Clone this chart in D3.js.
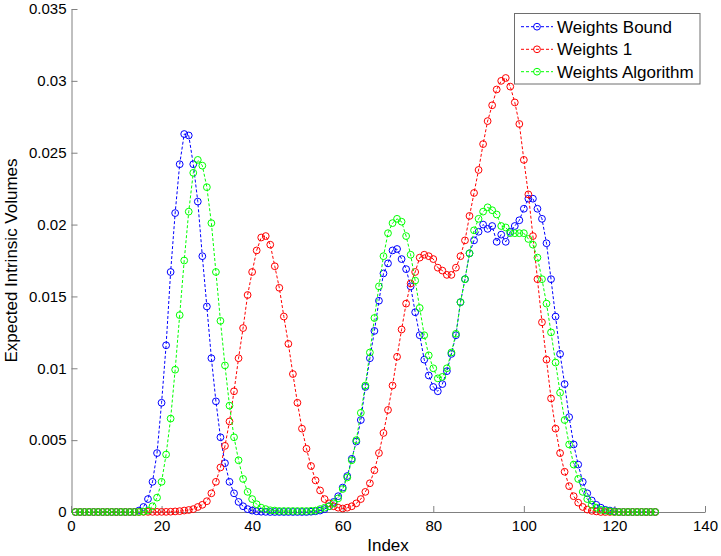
<!DOCTYPE html>
<html>
<head>
<meta charset="utf-8">
<script src="https://cdn.jsdelivr.net/npm/d3@7"></script>
<style>
  html, body { margin: 0; padding: 0; background: #fff; }
  svg { display: block; font-family: "Liberation Sans", Arial, Helvetica, sans-serif; }
</style>
</head>
<body>
<svg id="chart" width="721" height="556"></svg>
<script>
// ---------------- data ----------------
const seriesNames = ["Weights Bound", "Weights 1", "Weights Algorithm"];
const seriesColors = ["#0000ff", "#ff0000", "#00ff00"];

const weightsBound = [
  0,0,0,0,0,0,0,0,0,0,
  0,0,0,0,0.0001,0.00035,0.0009,0.0021,0.0041,0.0076,
  0.0116,0.0167,0.0208,0.0242,0.0263,0.0262,0.0242,0.0216,0.0178,0.0143,
  0.0107,0.0077,0.0052,0.0034,0.0021,0.0013,0.0007,0.0004,0.0002,0.0001,
  0.00005,0.00002,0.00001,0,0,0,0,0,0,0,
  0,0,0.00002,0.00005,0.0001,0.0002,0.0004,0.0007,0.0011,0.0017,
  0.0025,0.0037,0.0049,0.0064,0.0087,0.0107,0.0126,0.0147,0.0166,0.0173,
  0.0182,0.0183,0.0176,0.0169,0.0157,0.0139,0.0123,0.0106,0.0095,0.0087,
  0.0084,0.0089,0.0098,0.0110,0.0123,0.0146,0.0162,0.0180,0.0189,0.0195,
  0.0200,0.0197,0.0199,0.0188,0.0193,0.0188,0.0195,0.0199,0.0203,0.0211,
  0.0218,0.0218,0.0211,0.0204,0.0187,0.0162,0.0136,0.0110,0.0089,0.0066,
  0.0047,0.0033,0.0021,0.0013,0.0008,0.0005,0.0003,0.00015,0.0001,0.00005,
  0,0,0,0,0,0,0,0,0
];

const weights1 = [
  0,0,0,0,0,0,0,0,0,0,
  0,0,0,0,0,0.00001,0.00001,0.00001,0.00001,0.00001,
  0.00001,0.00002,0.00004,0.00006,0.0001,0.00014,0.0002,0.00035,0.0005,0.00075,
  0.0013,0.0021,0.0031,0.0046,0.0063,0.0084,0.0107,0.0128,0.0151,0.0167,
  0.0182,0.0191,0.0192,0.0186,0.0171,0.0156,0.0136,0.0117,0.0096,0.0076,
  0.0058,0.0044,0.0032,0.0022,0.0015,0.0009,0.0006,0.0004,0.0003,0.00024,
  0.0003,0.0004,0.0006,0.0009,0.0014,0.0020,0.0029,0.0041,0.0055,0.0071,
  0.0088,0.0108,0.0127,0.0145,0.0159,0.0167,0.0177,0.0179,0.0178,0.0176,
  0.0170,0.0168,0.0165,0.0165,0.0170,0.0178,0.0189,0.0206,0.0222,0.0238,
  0.0256,0.0272,0.0283,0.0294,0.0300,0.0302,0.0296,0.0285,0.0270,0.0245,
  0.0221,0.0192,0.0162,0.0132,0.0106,0.0079,0.0058,0.0041,0.0028,0.0018,
  0.0011,0.00065,0.00035,0.00017,0.00008,0.00004,0,0,0,0,
  0,0,0,0,0,0,0,0,0
];

const weightsAlgorithm = [
  0,0,0,0,0,0,0,0,0,0,
  0,0,0,0,0,0.00003,0.0001,0.0004,0.0010,0.0021,
  0.0040,0.0065,0.0099,0.0137,0.0175,0.0209,0.0236,0.0245,0.0241,0.0226,
  0.0201,0.0167,0.0133,0.0102,0.0074,0.0052,0.0036,0.0023,0.0014,0.0009,
  0.00054,0.0003,0.0002,0.00012,0.0001,0.00007,0.00007,0.00007,0.00007,0.00007,
  0.00007,0.00007,0.00008,0.0001,0.0002,0.0003,0.0004,0.0006,0.00095,0.0016,
  0.0024,0.0036,0.0050,0.0069,0.0088,0.0111,0.0135,0.0157,0.0178,0.0194,
  0.0201,0.0204,0.0202,0.0192,0.0179,0.0161,0.0142,0.0123,0.0109,0.0100,
  0.0093,0.0094,0.0100,0.0111,0.0124,0.0146,0.0162,0.0180,0.0196,0.0204,
  0.0209,0.0212,0.0210,0.0207,0.0199,0.0198,0.0194,0.0194,0.0194,0.0194,
  0.0190,0.0186,0.0177,0.0162,0.0145,0.0125,0.0104,0.0083,0.0064,0.0047,
  0.0033,0.0023,0.0014,0.0009,0.0005,0.0003,0.00015,0.0001,0.00005,0,
  0,0,0,0,0,0,0,0,0
];

const xTicks = [0, 20, 40, 60, 80, 100, 120, 140];
const yTicks = [0, 0.005, 0.01, 0.015, 0.02, 0.025, 0.03, 0.035];
const xLabel = "Index";
const yLabel = "Expected Intrinsic Volumes";

// ---------------- chart ----------------
const svg = d3.select("#chart");
const axisColor = "#808080";

const x = d3.scaleLinear().domain([0, 140]).range([71, 705]);
const y = d3.scaleLinear().domain([0, 0.035]).range([512, 9]);

const allSeries = [weightsBound, weights1, weightsAlgorithm];

// axes
const gx = svg.append("g")
  .attr("transform", "translate(0,512)")
  .call(d3.axisBottom(x).tickValues(xTicks).tickSizeInner(-6).tickSizeOuter(0).tickPadding(8).tickFormat(d => String(d)));
const gy = svg.append("g")
  .attr("transform", "translate(71.5,0)")
  .call(d3.axisLeft(y).tickValues(yTicks).tickSizeInner(-6).tickSizeOuter(0).tickPadding(5).tickFormat(d => String(+d.toFixed(3))));

[gx, gy].forEach(g => {
  g.select(".domain").attr("stroke", axisColor);
  g.selectAll(".tick line").attr("stroke", axisColor);
  g.selectAll(".tick text").attr("fill", "#000").style("font-size", "15px")
    .style("font-family", '"Liberation Sans", Arial, Helvetica, sans-serif');
});

// series
const line = d3.line().x((d, i) => x(i + 1)).y(d => y(d));
allSeries.forEach((data, s) => {
  const g = svg.append("g");
  g.append("path")
    .datum(data)
    .attr("d", line)
    .attr("fill", "none")
    .attr("stroke", seriesColors[s])
    .attr("stroke-width", 1)
    .attr("stroke-dasharray", "3,2");
  g.selectAll("circle")
    .data(data)
    .join("circle")
    .attr("cx", (d, i) => x(i + 1))
    .attr("cy", d => y(d))
    .attr("r", 3.4)
    .attr("fill", "none")
    .attr("stroke", seriesColors[s])
    .attr("stroke-width", 1);
});

// axis labels
svg.append("text")
  .attr("x", 388).attr("y", 551)
  .attr("text-anchor", "middle")
  .style("font-size", "17px")
  .text(xLabel);
svg.append("text")
  .attr("transform", "translate(16.5,260.5) rotate(-90)")
  .attr("text-anchor", "middle")
  .style("font-size", "17px")
  .text(yLabel);

// legend
const lg = svg.append("g");
lg.append("rect")
  .attr("x", 514.5).attr("y", 13.5).attr("width", 185.5).attr("height", 70.5)
  .attr("fill", "#fff").attr("stroke", "#6e6e6e").attr("stroke-width", 1);
const rowY = [26.7, 49.3, 71.7];
seriesNames.forEach((name, s) => {
  const yy = rowY[s];
  lg.append("line")
    .attr("x1", 521).attr("x2", 553).attr("y1", yy).attr("y2", yy)
    .attr("stroke", seriesColors[s]).attr("stroke-width", 1).attr("stroke-dasharray", "3,2");
  lg.append("circle")
    .attr("cx", 537).attr("cy", yy).attr("r", 3.4)
    .attr("fill", "none").attr("stroke", seriesColors[s]).attr("stroke-width", 1);
  lg.append("text")
    .attr("x", 557).attr("y", yy + 6)
    .style("font-size", "17px")
    .text(name);
});
</script>
</body>
</html>
